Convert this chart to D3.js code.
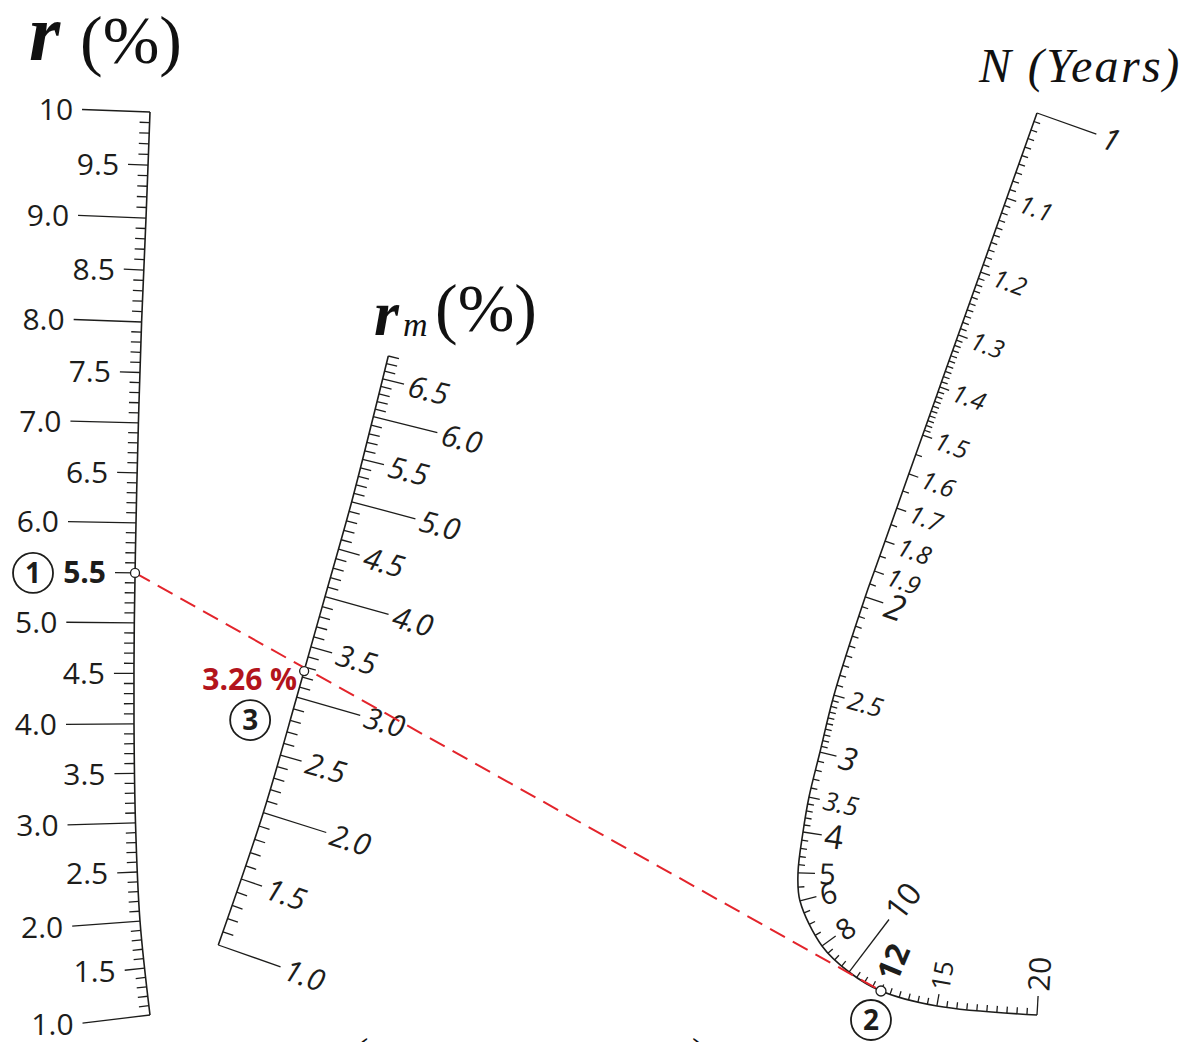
<!DOCTYPE html>
<html>
<head>
<meta charset="utf-8">
<script src="https://cdn.jsdelivr.net/npm/d3@7"></script>
<style>
  html, body { margin: 0; padding: 0; background: #ffffff; }
  svg { display: block; }
</style>
</head>
<body>
<svg id="chart" width="1200" height="1042"></svg>
<script>
// ---------------------------------------------------------------
// Scale values and labels
// ---------------------------------------------------------------
// r (%) : annual rate
const rRange = [1, 10];
const rMajorTicks = [1, 2, 3, 4, 5, 6, 7, 8, 9, 10];
const rMajorLabels = ["1.0", "2.0", "3.0", "4.0", "5.0", "6.0", "7.0", "8.0", "9.0", "10"];
const rHalfTicks = [1.5, 2.5, 3.5, 4.5, 5.5, 6.5, 7.5, 8.5, 9.5];
const rHalfLabels = ["1.5", "2.5", "3.5", "4.5", "5.5", "6.5", "7.5", "8.5", "9.5"];

// r_m (%) : mean rate
const rmRange = [1, 6.8];
const rmMajorTicks = [1, 2, 3, 4, 5, 6];
const rmMajorLabels = ["1.0", "2.0", "3.0", "4.0", "5.0", "6.0"];
const rmHalfTicks = [1.5, 2.5, 3.5, 4.5, 5.5, 6.5];
const rmHalfLabels = ["1.5", "2.5", "3.5", "4.5", "5.5", "6.5"];

// N (Years)
const nLabelValues = [1, 1.1, 1.2, 1.3, 1.4, 1.5, 1.6, 1.7, 1.8, 1.9, 2, 2.5, 3, 3.5, 4, 5, 6, 8, 10, 12, 15, 20];
const nLabelTexts  = ["1", "1.1", "1.2", "1.3", "1.4", "1.5", "1.6", "1.7", "1.8", "1.9", "2", "2.5", "3", "3.5", "4", "5", "6", "8", "10", "12", "15", "20"];
// graduation: [from, to, step]
const nGraduation = [[1, 1.5, 0.01], [1.5, 2, 0.05], [2, 3, 0.05], [3, 4, 0.1], [4, 5, 0.2], [5, 20, 0.5]];

// Worked example: r = 5.5 %, N = 12 years  ->  r_m = 3.26 %
const exampleR = 5.5;
const exampleN = 12;
const exampleRm = 3.26;
const exampleRmText = "3.26 %";

// ---------------------------------------------------------------
// Nomogram geometry: each scale is a curved support line, graduated
// through a piecewise scale from value to distance along the curve.
// ---------------------------------------------------------------
const rSupport = {
  values: [1, 2, 3, 4, 5, 6, 7, 8, 9, 10],
  points: [[150, 1015], [140, 921], [135.5, 823], [134, 724], [134.3, 623], [136, 523], [138.4, 423], [141.6, 322], [146, 218], [150, 112]]
};
const rmSupport = {
  values: [1, 2, 3, 4, 5, 6, 6.8],
  points: [[218.3, 945], [263.3, 812.7], [296.7, 697.3], [325, 596.7], [351.7, 501.7], [373.3, 416.7], [388.3, 356]]
};
const nSupport = {
  values: [1, 1.1, 1.2, 1.3, 1.4, 1.5, 1.6, 1.7, 1.8, 1.9, 2, 2.5, 3, 3.5, 4, 5, 6, 8, 10, 12, 15, 20],
  points: [[1037, 113], [1006.8, 198], [980.6, 272], [958.2, 335], [939.7, 387], [922.7, 435], [908.8, 474],
           [896.8, 508], [885.1, 541], [874.4, 571], [865.2, 597], [834, 695], [820, 752], [809, 797],
           [803, 832], [798, 873], [800, 901], [822, 946], [849, 972], [881, 991], [937, 1006], [1037, 1015]]
};

const INK = "#1d1d1b";
const SANS = "'Open Sans', 'Noto Sans', sans-serif";
const SERIF = "'Liberation Serif', 'DejaVu Serif', serif";

const svg = d3.select("#chart");
const gAxes = svg.append("g");
const gTicks = svg.append("g").attr("stroke", INK).attr("stroke-width", 1.3).attr("stroke-linecap", "butt");
const gLabels = svg.append("g").attr("fill", INK);
const gExample = svg.append("g");

function curvedScale(support, side) {
  const path = gAxes.append("path")
    .attr("d", d3.line().curve(d3.curveCatmullRom.alpha(0.5))(support.points))
    .attr("fill", "none")
    .attr("stroke", INK)
    .attr("stroke-width", 1.6);
  const node = path.node();
  const total = node.getTotalLength();
  const samples = [];
  for (let s = 0; s <= total; s += 0.25) {
    const p = node.getPointAtLength(s);
    samples.push([s, p.x, p.y]);
  }
  const lens = support.points.map(([x, y]) => d3.least(samples, d => (d[1] - x) ** 2 + (d[2] - y) ** 2)[0]);
  lens[0] = 0;
  lens[lens.length - 1] = total;
  const scale = d3.scaleLinear().domain(support.values).range(lens).clamp(true);
  const at = s => {
    const p = node.getPointAtLength(Math.max(0, Math.min(total, s)));
    return [p.x, p.y];
  };
  return {
    point: v => at(scale(v)),
    normal: v => {
      const s = scale(v);
      const a = at(s - 1.5), b = at(s + 1.5);
      let tx = b[0] - a[0], ty = b[1] - a[1];
      const L = Math.hypot(tx, ty);
      tx /= L; ty /= L;
      return side > 0 ? [-ty, tx] : [ty, -tx];
    }
  };
}

function tick(axis, v, len) {
  const [x, y] = axis.point(v);
  const [nx, ny] = axis.normal(v);
  gTicks.append("line")
    .attr("x1", x).attr("y1", y)
    .attr("x2", x + nx * len).attr("y2", y + ny * len);
}

function stepValues(from, to, step) {
  const k0 = Math.round(from / step), k1 = Math.round(to / step);
  return d3.range(k0, k1 + 1).map(k => +(k * step).toFixed(4));
}

// ---------------- r axis (ticks to the left) ----------------
const rAxis = curvedScale(rSupport, -1);
const rMajorLen = 68, rHalfLen = 20, rMinorLen = 10;
stepValues(rRange[0], rRange[1], 0.1).forEach(v => {
  const tenth = Math.round(v * 10) % 10;
  tick(rAxis, v, tenth === 0 ? rMajorLen : tenth === 5 ? rHalfLen : rMinorLen);
});
function rLabel(v, text, len, bold) {
  const [x, y] = rAxis.point(v);
  const [nx, ny] = rAxis.normal(v);
  const d = len + 9;
  gLabels.append("text")
    .attr("x", x + nx * d).attr("y", y + ny * d)
    .attr("dy", "0.36em")
    .attr("text-anchor", "end")
    .attr("font-family", SANS)
    .attr("font-size", 30)
    .attr("font-weight", bold ? 700 : 400)
    .text(text);
}
rMajorTicks.forEach((v, i) => rLabel(v, rMajorLabels[i], rMajorLen, false));
rHalfTicks.forEach((v, i) => rLabel(v, rHalfLabels[i], rHalfLen, v === exampleR));

// ---------------- r_m axis (ticks to the right) ----------------
const rmAxis = curvedScale(rmSupport, 1);
const rmMajorLen = 66, rmHalfLen = 22, rmMinorLen = 11;
stepValues(rmRange[0], rmRange[1], 0.1).forEach(v => {
  const tenth = Math.round(v * 10) % 10;
  tick(rmAxis, v, tenth === 0 ? rmMajorLen : tenth === 5 ? rmHalfLen : rmMinorLen);
});
function slantLabel(axis, v, text, dist, style) {
  const [x, y] = axis.point(v);
  const [nx, ny] = axis.normal(v);
  const ang = Math.atan2(ny, nx) * 180 / Math.PI;
  gLabels.append("text")
    .attr("transform", `translate(${x + nx * dist},${y + ny * dist}) rotate(${ang})`)
    .attr("dy", "0.36em")
    .attr("text-anchor", "start")
    .attr("font-family", SANS)
    .attr("font-size", style.size)
    .attr("font-style", style.italic ? "italic" : "normal")
    .attr("font-weight", style.bold ? 700 : 400)
    .text(text);
}
rmMajorTicks.forEach((v, i) => slantLabel(rmAxis, v, rmMajorLabels[i], rmMajorLen + 5, { size: 30, italic: true }));
rmHalfTicks.forEach((v, i) => slantLabel(rmAxis, v, rmHalfLabels[i], rmHalfLen + 5, { size: 30, italic: true }));

// ---------------- N axis ----------------
const nAxis = curvedScale(nSupport, -1);
function nStyle(v) {
  if (v === 1)  return { size: 31, italic: true, tick: 63, gap: 7 };
  if (v < 2)    return { size: 25, italic: true, tick: 10, gap: 4 };
  if (v === 2)  return { size: 35, italic: true, tick: 19, gap: 3 };
  if (v === 2.5 || v === 3.5) return { size: 26, italic: true, tick: 11, gap: 4 };
  if (v === 3)  return { size: 32, italic: true, tick: 17, gap: 3 };
  if (v === 4)  return { size: 33, tick: 19, gap: 3 };
  if (v === 10) return { size: 32, tick: 66, gap: 5 };
  if (v === 12) return { size: 32, bold: true, tick: 7, gap: 6 };
  if (v === 15) return { size: 26, tick: 12, gap: 4 };
  if (v === 20) return { size: 30, tick: 19, gap: 5 };
  return { size: 29, tick: 17, gap: 4 };
}
const nMinor = Array.from(new Set(nGraduation.flatMap(([a, b, s]) => stepValues(a, b, s))));
const nLabelled = new Set(nLabelValues);
nMinor.forEach(v => { if (!nLabelled.has(v)) tick(nAxis, v, 6.5); });
nLabelValues.forEach((v, i) => {
  const st = nStyle(v);
  tick(nAxis, v, st.tick);
  slantLabel(nAxis, v, nLabelTexts[i], st.tick + st.gap, st);
});

// ---------------- Titles ----------------
const tR = svg.append("g").attr("fill", "#111");
tR.append("text").attr("x", 29).attr("y", 60)
  .attr("font-family", SERIF).attr("font-size", 80).attr("font-style", "italic").attr("font-weight", 700).text("r");
tR.append("text").attr("x", 80).attr("y", 63)
  .attr("font-family", SERIF).attr("font-size", 68).text("(%)");

const tRm = svg.append("g").attr("fill", "#111");
tRm.append("text").attr("x", 374).attr("y", 335)
  .attr("font-family", SERIF).attr("font-size", 64).attr("font-style", "italic").attr("font-weight", 700).text("r");
tRm.append("text").attr("x", 403).attr("y", 336)
  .attr("font-family", SERIF).attr("font-size", 34).attr("font-style", "italic").text("m");
tRm.append("text").attr("x", 435).attr("y", 331)
  .attr("font-family", SERIF).attr("font-size", 68).text("(%)");

svg.append("text").attr("x", 979).attr("y", 82)
  .attr("fill", "#111")
  .attr("font-family", SERIF).attr("font-size", 48).attr("font-style", "italic")
  .attr("letter-spacing", 2.4)
  .text("N (Years)");

// parentheses of the caption below the nomogram
svg.append("g").attr("fill", "#111").attr("font-family", SERIF).attr("font-size", 40)
  .selectAll("text").data(["(", ")"]).join("text")
  .attr("x", (d, i) => i === 0 ? 355 : 692).attr("y", 1066).text(d => d);

// ---------------- Worked example ----------------
const pR = rAxis.point(exampleR);
const pN = nAxis.point(exampleN);
const pRm = rmAxis.point(exampleRm);

gExample.append("line")
  .attr("x1", pR[0]).attr("y1", pR[1]).attr("x2", pN[0]).attr("y2", pN[1])
  .attr("stroke", "#e3242b").attr("stroke-width", 2).attr("stroke-dasharray", "17,9");

[pR, pRm, pN].forEach((p, i) => {
  gExample.append("circle")
    .attr("cx", p[0]).attr("cy", p[1]).attr("r", i === 2 ? 5 : 4.5)
    .attr("fill", "#fff").attr("stroke", INK).attr("stroke-width", 1.3);
});

gExample.append("text")
  .attr("x", pRm[0] - 7).attr("y", pRm[1] + 19)
  .attr("text-anchor", "end")
  .attr("font-family", SANS).attr("font-size", 30).attr("font-weight", 700)
  .attr("fill", "#b3141c")
  .text(exampleRmText);

function circled(cx, cy, txt) {
  const g = gExample.append("g");
  g.append("circle").attr("cx", cx).attr("cy", cy).attr("r", 20)
    .attr("fill", "none").attr("stroke", INK).attr("stroke-width", 1.8);
  g.append("text").attr("x", cx).attr("y", cy).attr("dy", "0.36em")
    .attr("text-anchor", "middle").attr("font-family", SANS).attr("font-size", 28).attr("font-weight", 700)
    .attr("fill", INK).text(txt);
}
circled(pR[0] - 102, pR[1], "1");
circled(pN[0] - 10, pN[1] + 29, "2");
circled(pRm[0] - 54, pRm[1] + 49, "3");
</script>
</body>
</html>
